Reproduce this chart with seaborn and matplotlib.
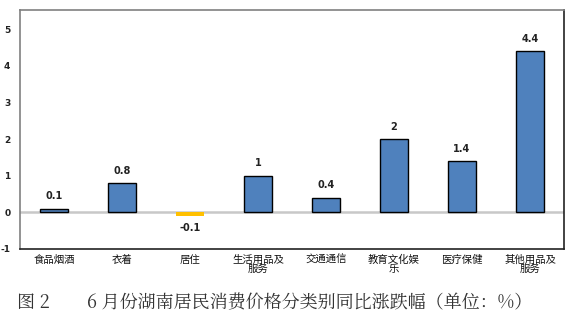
import matplotlib
matplotlib.use("Agg")
import matplotlib.pyplot as plt
import seaborn as sns
import pandas as pd

categories = ["食品烟酒", "衣着", "居住", "生活用品及\n服务", "交通通信", "教育文化娱\n乐", "医疗保健", "其他用品及\n服务"]
values = [0.1, 0.8, -0.1, 1, 0.4, 2, 1.4, 4.4]
value_labels = ["0.1", "0.8", "-0.1", "1", "0.4", "2", "1.4", "4.4"]
yticks = [-1, 0, 1, 2, 3, 4, 5]

sns.set_theme(style="white")
plt.rcParams['font.family'] = ['Noto Sans CJK SC', 'DejaVu Sans']

fig = plt.figure(figsize=(5.71, 3.23), dpi=100)
ax = fig.add_axes([20/571, 1-249/323, 544/571, 239/323])

df = pd.DataFrame({"cat": categories, "val": values})
colors = ["#4F81BD" if v >= 0 else "#FFC000" for v in values]
sns.barplot(data=df, x="cat", y="val", hue="cat", palette=colors, legend=False,
            width=0.41, ax=ax, saturation=1)

for p, v in zip(ax.patches, values):
    if v >= 0:
        p.set_edgecolor("black")
        p.set_linewidth(1.0)
    else:
        p.set_edgecolor("none")

ax.axhline(0, color="#C8C8C8", lw=1.8, zorder=0.5)

for i, (v, lab) in enumerate(zip(values, value_labels)):
    if v >= 0:
        ax.text(i, v + 0.2, lab, ha="center", va="bottom", fontsize=7, color="#222222",
                family="DejaVu Sans", weight="semibold")
    else:
        ax.text(i, v - 0.2, lab, ha="center", va="top", fontsize=7, color="#222222",
                family="DejaVu Sans", weight="semibold")

ax.set_ylim(-1, 5.52)
ax.set_xlim(-0.5, 7.5)
ax.set_yticks(yticks)
ax.set_yticklabels([str(t) for t in yticks], fontsize=6.5, color="#222222",
                   family="DejaVu Sans", weight="bold")
ax.tick_params(axis="y", length=0, pad=7)
ax.tick_params(axis="x", length=0, pad=4)
ax.set_xticks(range(len(categories)))
ax.set_xticklabels(categories, fontsize=7.5, color="#111111", linespacing=0.95, va="top")
ax.set_xlabel("")
ax.set_ylabel("")

for side in ["left", "top"]:
    ax.spines[side].set_color("#808080")
    ax.spines[side].set_linewidth(1.2)
for side in ["right", "bottom"]:
    ax.spines[side].set_color("#222222")
    ax.spines[side].set_linewidth(1.2)

fig.text(17/571, 1-303/323, "图 2", fontsize=13, color="#333333", va="center", ha="left",
         family=["Noto Serif CJK SC", "Noto Sans CJK SC", "DejaVu Sans"])
fig.text(87/571, 1-303/323, "6 月份湖南居民消费价格分类别同比涨跌幅（单位：%）", fontsize=13,
         color="#333333", va="center", ha="left",
         family=["Noto Serif CJK SC", "Noto Sans CJK SC", "DejaVu Sans"])

fig.savefig("out.png", dpi=100)
